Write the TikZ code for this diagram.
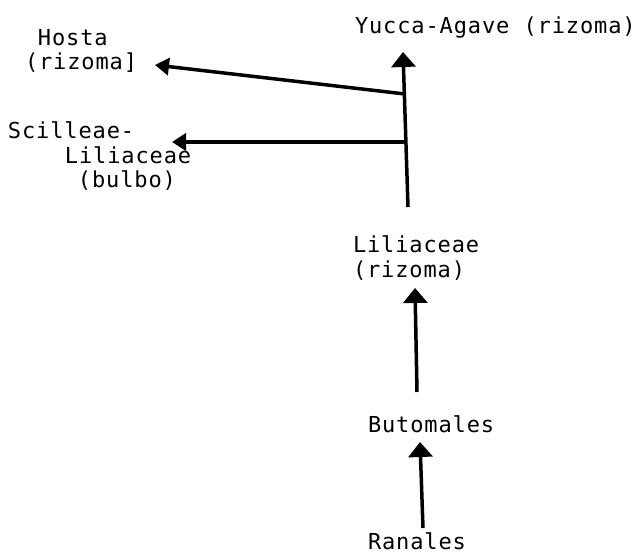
\documentclass[tikz,border=0pt]{standalone}
\usepackage{fontspec}
\newfontfamily\tw[LetterSpace=4]{DejaVu Sans Mono}
\usetikzlibrary{arrows.meta}
\begin{document}
\begin{tikzpicture}[x=1pt, y=-1pt]
\tikzset{ inner sep=0pt, outer sep=0pt,
  lbl/.style={anchor=north west, align=left, font=\tw\fontsize{22}{24.5}\selectfont},
  up/.style={line width=3.5pt, -{Triangle[width=24pt, length=15pt]}},
  side/.style={line width=3.5pt, -{Triangle[width=17pt, length=14pt]}} }
\useasboundingbox (0,0) rectangle (641,556);

%\draw [lightgray, dashed](0,0) grid [step=50] (641,556);

\node [lbl] (Yucca) at (355,17) {Yucca-Agave (rizoma)};
\node [lbl] (Hosta) at (25,29) {\hspace*{13pt}Hosta\\(rizoma]};
\node [lbl] (Scil)  at (8,122) {Scilleae-\\\hspace*{57pt}Liliaceae\\\hspace*{70pt}(bulbo)};
\node [lbl] (Lili)  at (353,236) {Liliaceae\\(rizoma)};
\node [lbl] (Buto)  at (368,416) {Butomales};
\node [lbl] (Rana)  at (368,533) {Ranales};

\coordinate (stem)  at (408,207);
\coordinate (top)   at (403,52);
\coordinate (jH)    at (405,94);
\coordinate (jS)    at (406,142);
\coordinate (tH)    at (155,65);
\coordinate (tS)    at (172,142);
\coordinate (lo1)   at (417,392);
\coordinate (hi1)   at (415,288);
\coordinate (lo2)   at (423,528);
\coordinate (hi2)   at (420,442);

\draw [up] (stem) -- (top);
\draw [side] (jH) -- (tH);
\draw [side] (jS) -- (tS);
\draw [up] (lo1) -- (hi1);
\draw [up] (lo2) -- (hi2);
\end{tikzpicture}
\end{document}
